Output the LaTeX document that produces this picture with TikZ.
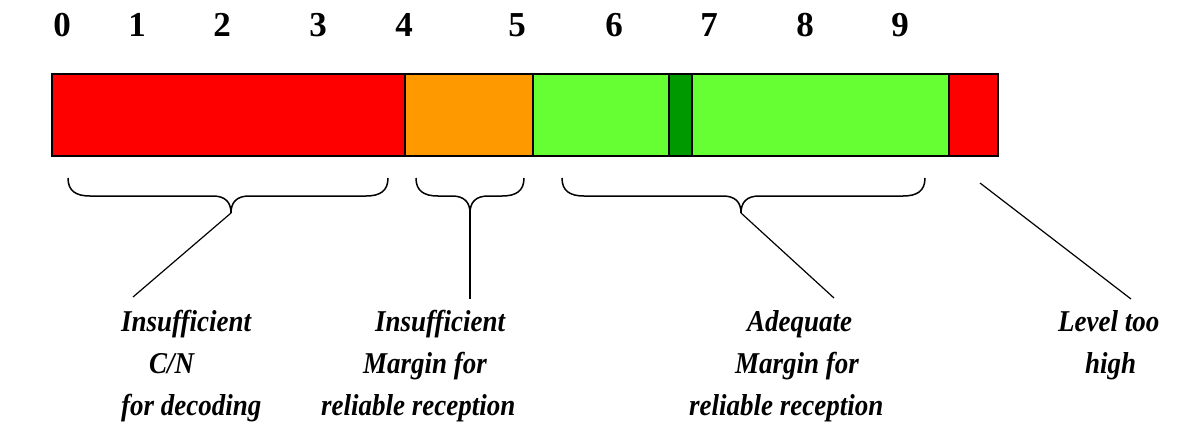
\documentclass[tikz,border=0pt]{standalone}
\usepackage{fontspec}
\setmainfont{Liberation Serif}
\definecolor{barred}{HTML}{FF0000}
\definecolor{barorange}{HTML}{FF9900}
\definecolor{barlight}{HTML}{66FF33}
\definecolor{bardark}{HTML}{009900}
\tikzset{
  seg/.style={draw=black, line width=1.5pt},
  tick/.style={font=\fontsize{35}{35}\selectfont\bfseries, inner sep=0pt},
  lbl/.style={font=\fontsize{27}{37.5}\selectfont\bfseries\itshape, align=left,
    inner sep=0pt, anchor=north west, yscale=1.12, transform shape},
  bracepath/.style={line width=1.5pt},
  lead/.style={line width=1.2pt}
}
% curly brace opening downwards, ends at x1 and x2, cusp at xm
\newcommand{\downbrace}[3]{%
  \draw[bracepath] (#1,178) .. controls (#1,191) and (#1+8,196) .. (#1+22,196)
    -- (#3-18,196) .. controls (#3-6,196) and (#3,202) .. (#3,213)
    .. controls (#3,202) and (#3+6,196) .. (#3+18,196)
    -- (#2-22,196) .. controls (#2-8,196) and (#2,191) .. (#2,178);}
\begin{document}
\begin{tikzpicture}[x=1pt, y=-1pt]
\useasboundingbox (0,0) rectangle (1183,432);

% scale numbers
\foreach \n/\x in {0/62,1/137,2/222,3/318,4/404,5/517,6/614,7/709,8/805,9/900}
  \node[tick] (n\n) at (\x,25) {\n};

% level bar
\fill[barred]    (52,74)  rectangle (405,156);
\fill[barorange] (405,74) rectangle (533,156);
\fill[barlight]  (533,74) rectangle (949,156);
\fill[bardark]   (669,74) rectangle (692,156);
\fill[barred]    (949,74) rectangle (998,156);
\draw[seg] (52,74) rectangle (998,156);
\draw[seg] (405,74) -- (405,156);
\draw[seg] (533,74) -- (533,156);
\draw[seg] (669,74) rectangle (692,156);
\draw[seg] (949,74) -- (949,156);

% braces under the bar
\downbrace{68}{388}{231}
\downbrace{416}{524}{470}
\downbrace{562}{925}{741}

\coordinate (t1) at (231,213);
\coordinate (t2) at (470,213);
\coordinate (t3) at (741,213);
\coordinate (t4) at (980,183);

% labels
\node[lbl] (L1) at (121,310) {Insufficient\\\hspace*{28pt}C/N\\for decoding};
\node[lbl] (L2) at (321,310) {\hspace*{54pt}Insufficient\\\hspace*{42pt}Margin for\\reliable reception};
\node[lbl] (L3) at (689,310) {\hspace*{58pt}Adequate\\\hspace*{46pt}Margin for\\reliable reception};
\node[lbl] (L4) at (1058,310) {Level too\\\hspace*{27pt}high};

\coordinate (e1) at (133,297);
\coordinate (e2) at (470,299);
\coordinate (e3) at (834,298);
\coordinate (e4) at (1131,299);

% leader lines
\draw[lead] (t1) -- (e1);
\draw[lead] (t2) -- (e2);
\draw[lead] (t3) -- (e3);
\draw[lead] (t4) -- (e4);
\end{tikzpicture}
\end{document}
